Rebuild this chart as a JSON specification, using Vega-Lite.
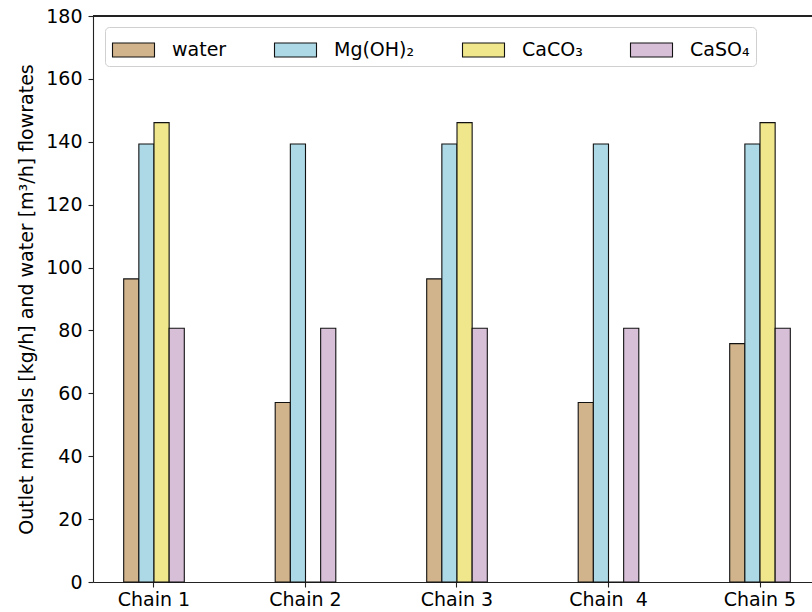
{
  "$schema": "https://vega.github.io/schema/vega-lite/v6.json",
  "autosize": "none",
  "width": 719,
  "height": 566,
  "padding": {"left": 93, "top": 16, "right": 0, "bottom": 30},
  "background": "white",
  "config": {
    "view": {"stroke": null},
    "font": "DejaVu Sans",
    "axis": {
      "labelFont": "DejaVu Sans",
      "labelFontSize": 19,
      "labelColor": "#000000",
      "titleFont": "DejaVu Sans",
      "titleFontSize": 19,
      "titleFontWeight": "normal",
      "titleColor": "#000000",
      "domainColor": "#222222",
      "domainWidth": 1.1,
      "tickColor": "#222222",
      "tickWidth": 1.1,
      "tickSize": 5,
      "grid": false
    },
    "legend": {
      "labelFont": "DejaVu Sans",
      "labelFontSize": 19,
      "labelColor": "#000000"
    }
  },
  "data": {
    "values": [
      {"chain": "Chain 1", "mineral": "water", "flow": 96.4},
      {"chain": "Chain 1", "mineral": "Mg(OH)₂", "flow": 139.3},
      {"chain": "Chain 1", "mineral": "CaCO₃", "flow": 146.1},
      {"chain": "Chain 1", "mineral": "CaSO₄", "flow": 80.7},
      {"chain": "Chain 2", "mineral": "water", "flow": 57.1},
      {"chain": "Chain 2", "mineral": "Mg(OH)₂", "flow": 139.3},
      {"chain": "Chain 2", "mineral": "CaCO₃", "flow": 0},
      {"chain": "Chain 2", "mineral": "CaSO₄", "flow": 80.7},
      {"chain": "Chain 3", "mineral": "water", "flow": 96.4},
      {"chain": "Chain 3", "mineral": "Mg(OH)₂", "flow": 139.3},
      {"chain": "Chain 3", "mineral": "CaCO₃", "flow": 146.1},
      {"chain": "Chain 3", "mineral": "CaSO₄", "flow": 80.7},
      {"chain": "Chain  4", "mineral": "water", "flow": 57.1},
      {"chain": "Chain  4", "mineral": "Mg(OH)₂", "flow": 139.3},
      {"chain": "Chain  4", "mineral": "CaCO₃", "flow": 0},
      {"chain": "Chain  4", "mineral": "CaSO₄", "flow": 80.7},
      {"chain": "Chain 5", "mineral": "water", "flow": 75.8},
      {"chain": "Chain 5", "mineral": "Mg(OH)₂", "flow": 139.3},
      {"chain": "Chain 5", "mineral": "CaCO₃", "flow": 146.1},
      {"chain": "Chain 5", "mineral": "CaSO₄", "flow": 80.7}
    ]
  },
  "layer": [
    {
      "mark": {"type": "bar", "stroke": "#111111", "strokeWidth": 1.1},
      "encoding": {
        "x": {
          "field": "chain",
          "type": "nominal",
          "sort": null,
          "scale": {"range": [0, 728], "paddingInner": 0.6, "paddingOuter": 0.2026},
          "axis": {
            "title": null,
            "labelAngle": 0,
            "labelPadding": 3,
            "labelExpr": "replace(datum.label, '  ', '\u00a0 ')"
          }
        },
        "xOffset": {
          "field": "mineral",
          "type": "nominal",
          "sort": ["water", "Mg(OH)₂", "CaCO₃", "CaSO₄"],
          "scale": {"paddingInner": 0, "paddingOuter": 0}
        },
        "y": {
          "field": "flow",
          "type": "quantitative",
          "scale": {"domain": [0, 180], "nice": false},
          "axis": {
            "title": "Outlet minerals [kg/h] and water [m³/h] flowrates",
            "values": [0, 20, 40, 60, 80, 100, 120, 140, 160, 180],
            "labelPadding": 6,
            "titlePadding": 9
          }
        },
        "fill": {
          "field": "mineral",
          "type": "nominal",
          "scale": {
            "domain": ["water", "Mg(OH)₂", "CaCO₃", "CaSO₄"],
            "range": ["#D2B48C", "#ADD8E6", "#F0E68C", "#D8BFD8"]
          },
          "legend": {
            "title": null,
            "orient": "none",
            "legendX": 12,
            "legendY": 11,
            "direction": "horizontal",
            "columns": 4,
            "columnPadding": 45,
            "padding": 6,
            "fillColor": "white",
            "strokeColor": "#d0d0d0",
            "cornerRadius": 4,
            "symbolType": "M-1.3125,-0.4375H1.3125V0.4375H-1.3125Z",
            "symbolSize": 1024,
            "symbolStrokeColor": "#111111",
            "symbolStrokeWidth": 1.1,
            "symbolOffset": 5.5,
            "labelOffset": 21.5
          }
        }
      }
    },
    {
      "mark": {"type": "rule", "color": "#222222", "strokeWidth": 1.1},
      "encoding": {"y": {"datum": 180}}
    }
  ]
}
